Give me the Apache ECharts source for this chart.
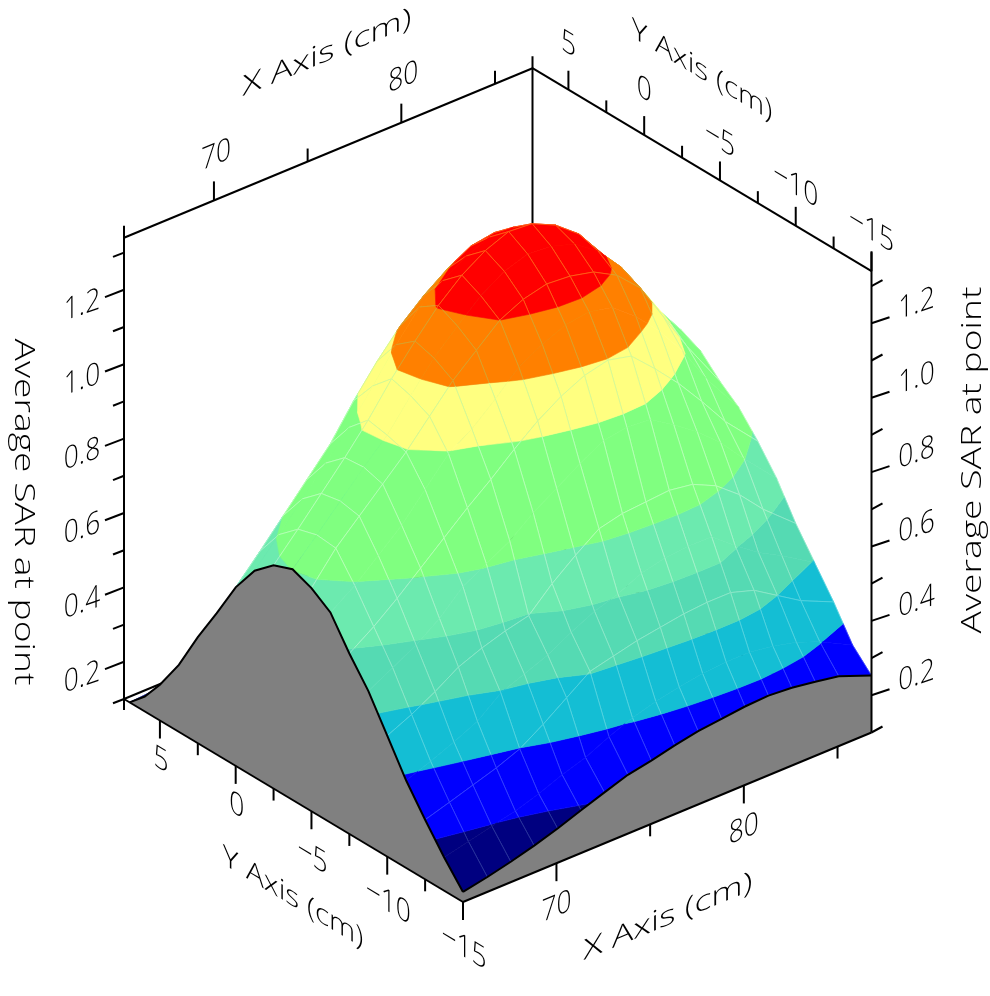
<!DOCTYPE html>
<html><head><meta charset="utf-8">
<script src="https://cdn.jsdelivr.net/npm/echarts@6/dist/echarts.min.js"></script>
<style>html,body{margin:0;padding:0;background:#fff}#c{width:990px;height:996px}</style>
</head><body><div id="c"></div>
<script>
// ---- data ----
const xValues = [65.2,66.5,67.75,69,70.25,71.5,72.75,74,75.25,76.5,77.75,79,80.25,81.5,82.75,84,85.25,87];
const yValues = [7,6,5,3.75,2.5,1.25,0,-1.25,-2.5,-3.75,-5,-6.25,-7.5,-8.75,-10,-11.25,-12.5,-13.75,-15];
const zAtYp7    = [.10,.105,.11,.115,.125,.14,.17,.21,.26,.31,.36,.40,.43,.44,.43,.40,.37,.33];
const zAtYp6    = [.14,.155,.17,.19,.215,.25,.30,.36,.42,.48,.53,.57,.60,.61,.60,.56,.52,.46];
const zAtYp5    = [.196,.225,.25,.28,.32,.375,.44,.52,.60,.67,.72,.76,.79,.80,.78,.74,.69,.62];
const zAtYp3_75 = [.28,.32,.355,.39,.44,.505,.58,.67,.76,.825,.88,.92,.945,.95,.92,.87,.815,.73];
const zAtYp2_5  = [.385,.43,.475,.52,.575,.65,.74,.83,.92,.98,1.04,1.08,1.10,1.095,1.06,1.0,.94,.84];
const zAtYp1_25 = [.48,.54,.60,.655,.715,.80,.89,.98,1.04,1.095,1.14,1.165,1.17,1.155,1.11,1.04,.96,.85];
const zAtY0     = [.58,.65,.72,.79,.86,.95,1.03,1.10,1.155,1.20,1.235,1.245,1.23,1.205,1.14,1.06,.97,.86];
const zAtYm1_25 = [.655,.725,.795,.865,.935,1.02,1.105,1.18,1.225,1.265,1.29,1.29,1.27,1.235,1.17,1.08,.985,.875];
const zAtYm2_5  = [.70,.77,.84,.91,.985,1.07,1.145,1.215,1.27,1.31,1.335,1.33,1.30,1.25,1.17,1.08,.99,.875];
const zAtYm3_75 = [.72,.785,.85,.915,.975,1.055,1.13,1.19,1.245,1.285,1.305,1.30,1.28,1.235,1.165,1.07,.97,.85];
const zAtYm5    = [.70,.78,.84,.90,.96,1.03,1.10,1.155,1.21,1.24,1.255,1.25,1.235,1.20,1.14,1.035,.93,.80];
const zAtYm6_25 = [.665,.71,.765,.82,.89,.96,1.0,1.055,1.115,1.15,1.175,1.185,1.17,1.12,1.055,.975,.875,.76];
const zAtYm7_5  = [.585,.63,.68,.735,.79,.845,.895,.95,1.0,1.04,1.07,1.085,1.07,1.01,.945,.87,.79,.70];
const zAtYm8_75 = [.515,.55,.585,.63,.69,.725,.76,.81,.85,.89,.925,.935,.93,.89,.845,.79,.72,.63];
const zAtYm10   = [.425,.455,.49,.53,.555,.575,.59,.65,.70,.745,.76,.765,.77,.76,.73,.68,.615,.54];
const zAtYm11_25= [.335,.36,.385,.415,.465,.49,.515,.55,.58,.60,.63,.645,.65,.65,.60,.555,.52,.465];
const zAtYm12_5 = [.26,.28,.30,.32,.345,.385,.43,.475,.49,.505,.515,.525,.53,.53,.51,.47,.43,.39];
const zAtYm13_75= [.19,.205,.22,.235,.255,.28,.30,.33,.355,.372,.385,.395,.40,.40,.39,.375,.35,.305];
const zAtYm15   = [.127,.14,.155,.172,.192,.215,.237,.258,.27,.285,.297,.304,.311,.314,.309,.299,.288,.253];
const zRows = [zAtYp7,zAtYp6,zAtYp5,zAtYp3_75,zAtYp2_5,zAtYp1_25,zAtY0,zAtYm1_25,zAtYm2_5,zAtYm3_75,zAtYm5,zAtYm6_25,zAtYm7_5,zAtYm8_75,zAtYm10,zAtYm11_25,zAtYm12_5,zAtYm13_75,zAtYm15];
const bandLevels = [.2235,.347,.47,.594,.7175,.965,1.088,1.21];
const bandColors = ['#000080','#0000FF','#14BED4','#55DAB3','#6CEAAF','#80FF80','#FFFF80','#FF8000','#FF0000'];
const meshColors = ['#3A4AA8','#4A5CFF','#6FDCE4','#A4ECD2','#BDF5D6','#CFFFCF','#BFF5A0','#C8B040','#FF8A20'];
const xMajor = [70,80], xMinor = [75,85];
const yMajor = [5,0,-5,-10,-15], yMinor = [2.5,-2.5,-7.5,-12.5];
const zMajor = [.2,.4,.6,.8,1.0,1.2], zMinor = [.1,.3,.5,.7,.9,1.1,1.3];
const zLabels = ['0.2','0.4','0.6','0.8','1.0','1.2'];
const xLabels = ['70','80'], yLabels = ['5','0','−5','−10','−15'];
const xTitle = 'X Axis (cm)', yTitle = 'Y Axis (cm)', zTitle = 'Average SAR at point';

// ---- projection of the box ----
const box = {x0:65.2,x1:87,y0:-15,y1:7.37,z0:.1,z1:1.34};
const left = [124,699], xVec = [408.5,-169.5], yVec = [339,203], zPx = 372;
function P(x,y,z){
  const u=(x-box.x0)/(box.x1-box.x0), v=(box.y1-y)/(box.y1-box.y0);
  return [left[0]+xVec[0]*u+yVec[0]*v, left[1]+xVec[1]*u+yVec[1]*v-(z-box.z0)*zPx];
}
const add=(p,dx,dy)=>[p[0]+dx,p[1]+dy];

// ---- frame segments, all derived from the tick arrays ----
const {x0,x1,y0,y1,z0,z1}=box;
const backSegs=[
  [P(x1,y1,z0),add(P(x1,y1,z1),0,-12)],
  [P(x0,y1,z0),P(x1,y1,z0)],
  [P(x1,y0,z0),P(x1,y1,z0)]
];
const frontSegs=[
  [P(x0,y1,z1),P(x1,y1,z1)],[P(x1,y1,z1),P(x1,y0,z1)],
  [add(P(x0,y1,z0),0,11),add(P(x0,y1,z1),0,-12)],
  [P(x1,y0,z0),add(P(x1,y0,z1),0,-20)],
  [P(x0,y1,z0),P(x0,y0,z0)],[P(x0,y0,z0),P(x1,y0,z0)]
];
const frontXShift=[3.5,-1.5];
xMajor.forEach(x=>{const t=P(x,y1,z1);frontSegs.push([t,add(t,0,-19)]);
  const b=add(P(x,y0,z0),frontXShift[0],frontXShift[1]);frontSegs.push([b,add(b,0,18)]);});
xMinor.forEach(x=>{const t=P(x,y1,z1);frontSegs.push([t,add(t,0,-13)]);
  const b=add(P(x,y0,z0),frontXShift[0],frontXShift[1]);frontSegs.push([b,add(b,0,12)]);});
yMajor.forEach(y=>{const t=P(x1,y,z1);frontSegs.push([t,add(t,0,-19)]);
  const b=P(x0,y,z0);frontSegs.push([b,add(b,0,18)]);});
yMinor.forEach(y=>{const t=P(x1,y,z1);frontSegs.push([t,add(t,0,-12)]);
  const b=P(x0,y,z0);frontSegs.push([b,add(b,0,12)]);});
zMajor.forEach(z=>{const l=P(x0,y1,z);frontSegs.push([l,add(l,-19,7.3)]);
  const r=P(x1,y0,z);frontSegs.push([r,add(r,18,-6)]);});
zMinor.forEach(z=>{const l=P(x0,y1,z);frontSegs.push([l,add(l,-11,4.3)]);
  const r=P(x1,y0,z);frontSegs.push([r,add(r,11,-6)]);});

// ---- cells, far to near ----
const cells=[];
for(let i=xValues.length-2;i>=0;i--)for(let j=0;j<yValues.length-1;j++)cells.push([i,j]);
const V=(i,j)=>({x:xValues[i],y:yValues[j],z:zRows[j][i]});
function lerpV(a,b,t){return {x:a.x+(b.x-a.x)*t,y:a.y+(b.y-a.y)*t,z:a.z+(b.z-a.z)*t};}
function clip(poly,lv,keepAbove){
  const out=[];
  for(let k=0;k<poly.length;k++){
    const a=poly[k],b=poly[(k+1)%poly.length];
    const ia=keepAbove?a.z>=lv:a.z<=lv, ib=keepAbove?b.z>=lv:b.z<=lv;
    if(ia)out.push(a);
    if(ia!==ib)out.push(lerpV(a,b,(lv-a.z)/(b.z-a.z)));
  }
  return out;
}
function bandOf(z){let k=0;while(k<bandLevels.length&&z>=bandLevels[k])k++;return k;}
function splitEdge(a,b){
  const ts=[0,1];
  bandLevels.forEach(l=>{if((a.z-l)*(b.z-l)<0)ts.push((l-a.z)/(b.z-a.z));});
  ts.sort((p,q)=>p-q);
  const segs=[];
  for(let k=0;k<ts.length-1;k++){
    const p=lerpV(a,b,ts[k]),q=lerpV(a,b,ts[k+1]);
    segs.push([p,q,bandOf((p.z+q.z)/2)]);
  }
  return segs;
}

// ---- text helper: lays text on a wall by an arbitrary 2x2 frame ----
function wallText(api,text,cx,cy,e1,e2,font){
  const E=(e1[0]+e2[1])/2,F=(e1[0]-e2[1])/2,G=(e1[1]+e2[0])/2,H=(e1[1]-e2[0])/2;
  const Q=Math.hypot(E,H),R=Math.hypot(F,G);
  const a1=Math.atan2(G,F),a2=Math.atan2(H,E);
  const theta=(a2-a1)/2,phi=(a2+a1)/2;
  const c=api.coord([cx,cy]);
  return {type:'group',x:c[0],y:c[1],rotation:-phi,scaleX:Q+R,scaleY:Q-R,silent:true,
    children:[{type:'text',rotation:-theta,style:{text,x:0,y:0,align:'center',verticalAlign:'middle',font,fill:'#000'}}]};
}
const digitFont='300 31px "Open Sans"', titleFont='300 28px "Open Sans"';
const slopeX=xVec[1]/xVec[0], slopeY=yVec[1]/yVec[0];

const texts=[];
xMajor.forEach((x,i)=>{const t=P(x,y1,z1);texts.push({s:xLabels[i],c:add(t,2,-45),e1:[.85,.85*slopeX],f:digitFont});
  const b=add(P(x,y0,z0),frontXShift[0],frontXShift[1]);texts.push({s:xLabels[i],c:add(b,0,44),e1:[.85,.85*slopeX],f:digitFont});});
yMajor.forEach((y,i)=>{const t=P(x1,y,z1);texts.push({s:yLabels[i],c:add(t,0,i<2?-45:-40),e1:[.85,.85*slopeY],f:digitFont});
  const b=P(x0,y,z0);texts.push({s:yLabels[i],c:add(b,1,i<2?40:46),e1:[.85,.85*slopeY],f:digitFont});});
zMajor.forEach((z,i)=>{const l=P(x0,y1,z);texts.push({s:zLabels[i],c:add(l,-42,16),e1:[.85,-.29],f:digitFont});
  const r=P(x1,y0,z);texts.push({s:zLabels[i],c:add(r,45,-19),e1:[.85,-.29],f:digitFont});});
texts.push({s:xTitle,c:[327,53],e1:[1.27,1.27*slopeX],f:titleFont});
texts.push({s:xTitle,c:[668,917],e1:[1.27,1.27*slopeX],f:titleFont});
texts.push({s:yTitle,c:[702,71],e1:[1.06,1.06*slopeY],f:titleFont});
texts.push({s:yTitle,c:[293,898],e1:[1.06,1.06*slopeY],f:titleFont});
texts.push({s:zTitle,c:[23,512],e1:[0,1.33],e2:[-1,0],f:titleFont});
texts.push({s:zTitle,c:[973,460],e1:[0,-1.33],e2:[1,0],f:titleFont});

function segSeries(name,segs,z){
  return {name,type:'custom',coordinateSystem:'cartesian2d',clip:false,silent:true,z,
    data:segs.map((_,i)=>[i]),
    renderItem(p,api){
      const s=segs[api.value(0)],a=api.coord(s[0]),b=api.coord(s[1]);
      return {type:'line',shape:{x1:a[0],y1:a[1],x2:b[0],y2:b[1]},style:{stroke:'#000',lineWidth:2}};
    }};
}
const option={
  animation:false,
  grid:{left:0,right:0,top:0,bottom:0},
  xAxis:{type:'value',min:0,max:990,show:false},
  yAxis:{type:'value',min:0,max:996,inverse:true,show:false},
  series:[
    segSeries('back',backSegs,1),
    {name:'surface',type:'custom',coordinateSystem:'cartesian2d',clip:false,silent:true,z:2,
     data:cells,
     renderItem(p,api){
       const i=api.value(0),j=api.value(1);
       const quad=[V(i,j),V(i+1,j),V(i+1,j+1),V(i,j+1)];
       const children=[];
       bandColors.forEach((col,k)=>{
         let poly=quad;
         if(k>0)poly=clip(poly,bandLevels[k-1],true);
         if(poly.length&&k<bandLevels.length)poly=clip(poly,bandLevels[k],false);
         if(poly.length>2)children.push({type:'polygon',
           shape:{points:poly.map(v=>api.coord(P(v.x,v.y,v.z)))},
           style:{fill:col,stroke:col,lineWidth:.6}});
       });
       for(let e=0;e<4;e++){
         // rows of constant Y are ruled on every second row only
         if(e===0&&j%2===1)continue;
         if(e===2&&(j+1)%2===1)continue;
         splitEdge(quad[e],quad[(e+1)%4]).forEach(s=>{
           const a=api.coord(P(s[0].x,s[0].y,s[0].z)),b=api.coord(P(s[1].x,s[1].y,s[1].z));
           children.push({type:'line',shape:{x1:a[0],y1:a[1],x2:b[0],y2:b[1]},style:{stroke:meshColors[s[2]],lineWidth:.8,opacity:.75}});
         });
       }
       return {type:'group',children};
     }},
    {name:'sides',type:'custom',coordinateSystem:'cartesian2d',clip:false,silent:true,z:3,
     data:[[0],[1]],
     renderItem(p,api){
       const top=[],bot=[];
       if(api.value(0)===0){
         yValues.forEach((y,j)=>{top.push(P(xValues[0],y,zRows[j][0]));});
         bot.push(P(xValues[0],yValues[yValues.length-1],z0),P(xValues[0],yValues[0],z0));
       }else{
         xValues.forEach((x,i)=>{top.push(P(x,yValues[yValues.length-1],zRows[yValues.length-1][i]));});
         bot.push(P(xValues[xValues.length-1],y0,z0),P(xValues[0],y0,z0));
       }
       const t=top.map(q=>api.coord(q));
       return {type:'group',children:[
         {type:'polygon',shape:{points:t.concat(bot.map(q=>api.coord(q)))},style:{fill:'#808080'}},
         {type:'polyline',shape:{points:t},style:{stroke:'#000',lineWidth:2,fill:null}}
       ]};
     }},
    segSeries('front',frontSegs,4),
    {name:'text',type:'custom',coordinateSystem:'cartesian2d',clip:false,silent:true,z:5,
     data:texts.map((_,i)=>[i]),
     renderItem(p,api){
       const t=texts[api.value(0)];
       return wallText(api,t.s,t.c[0],t.c[1],t.e1,t.e2||[0,1],t.f);
     }}
  ]
};
echarts.init(document.getElementById('c'),null,{renderer:'canvas'}).setOption(option);
</script></body></html>
